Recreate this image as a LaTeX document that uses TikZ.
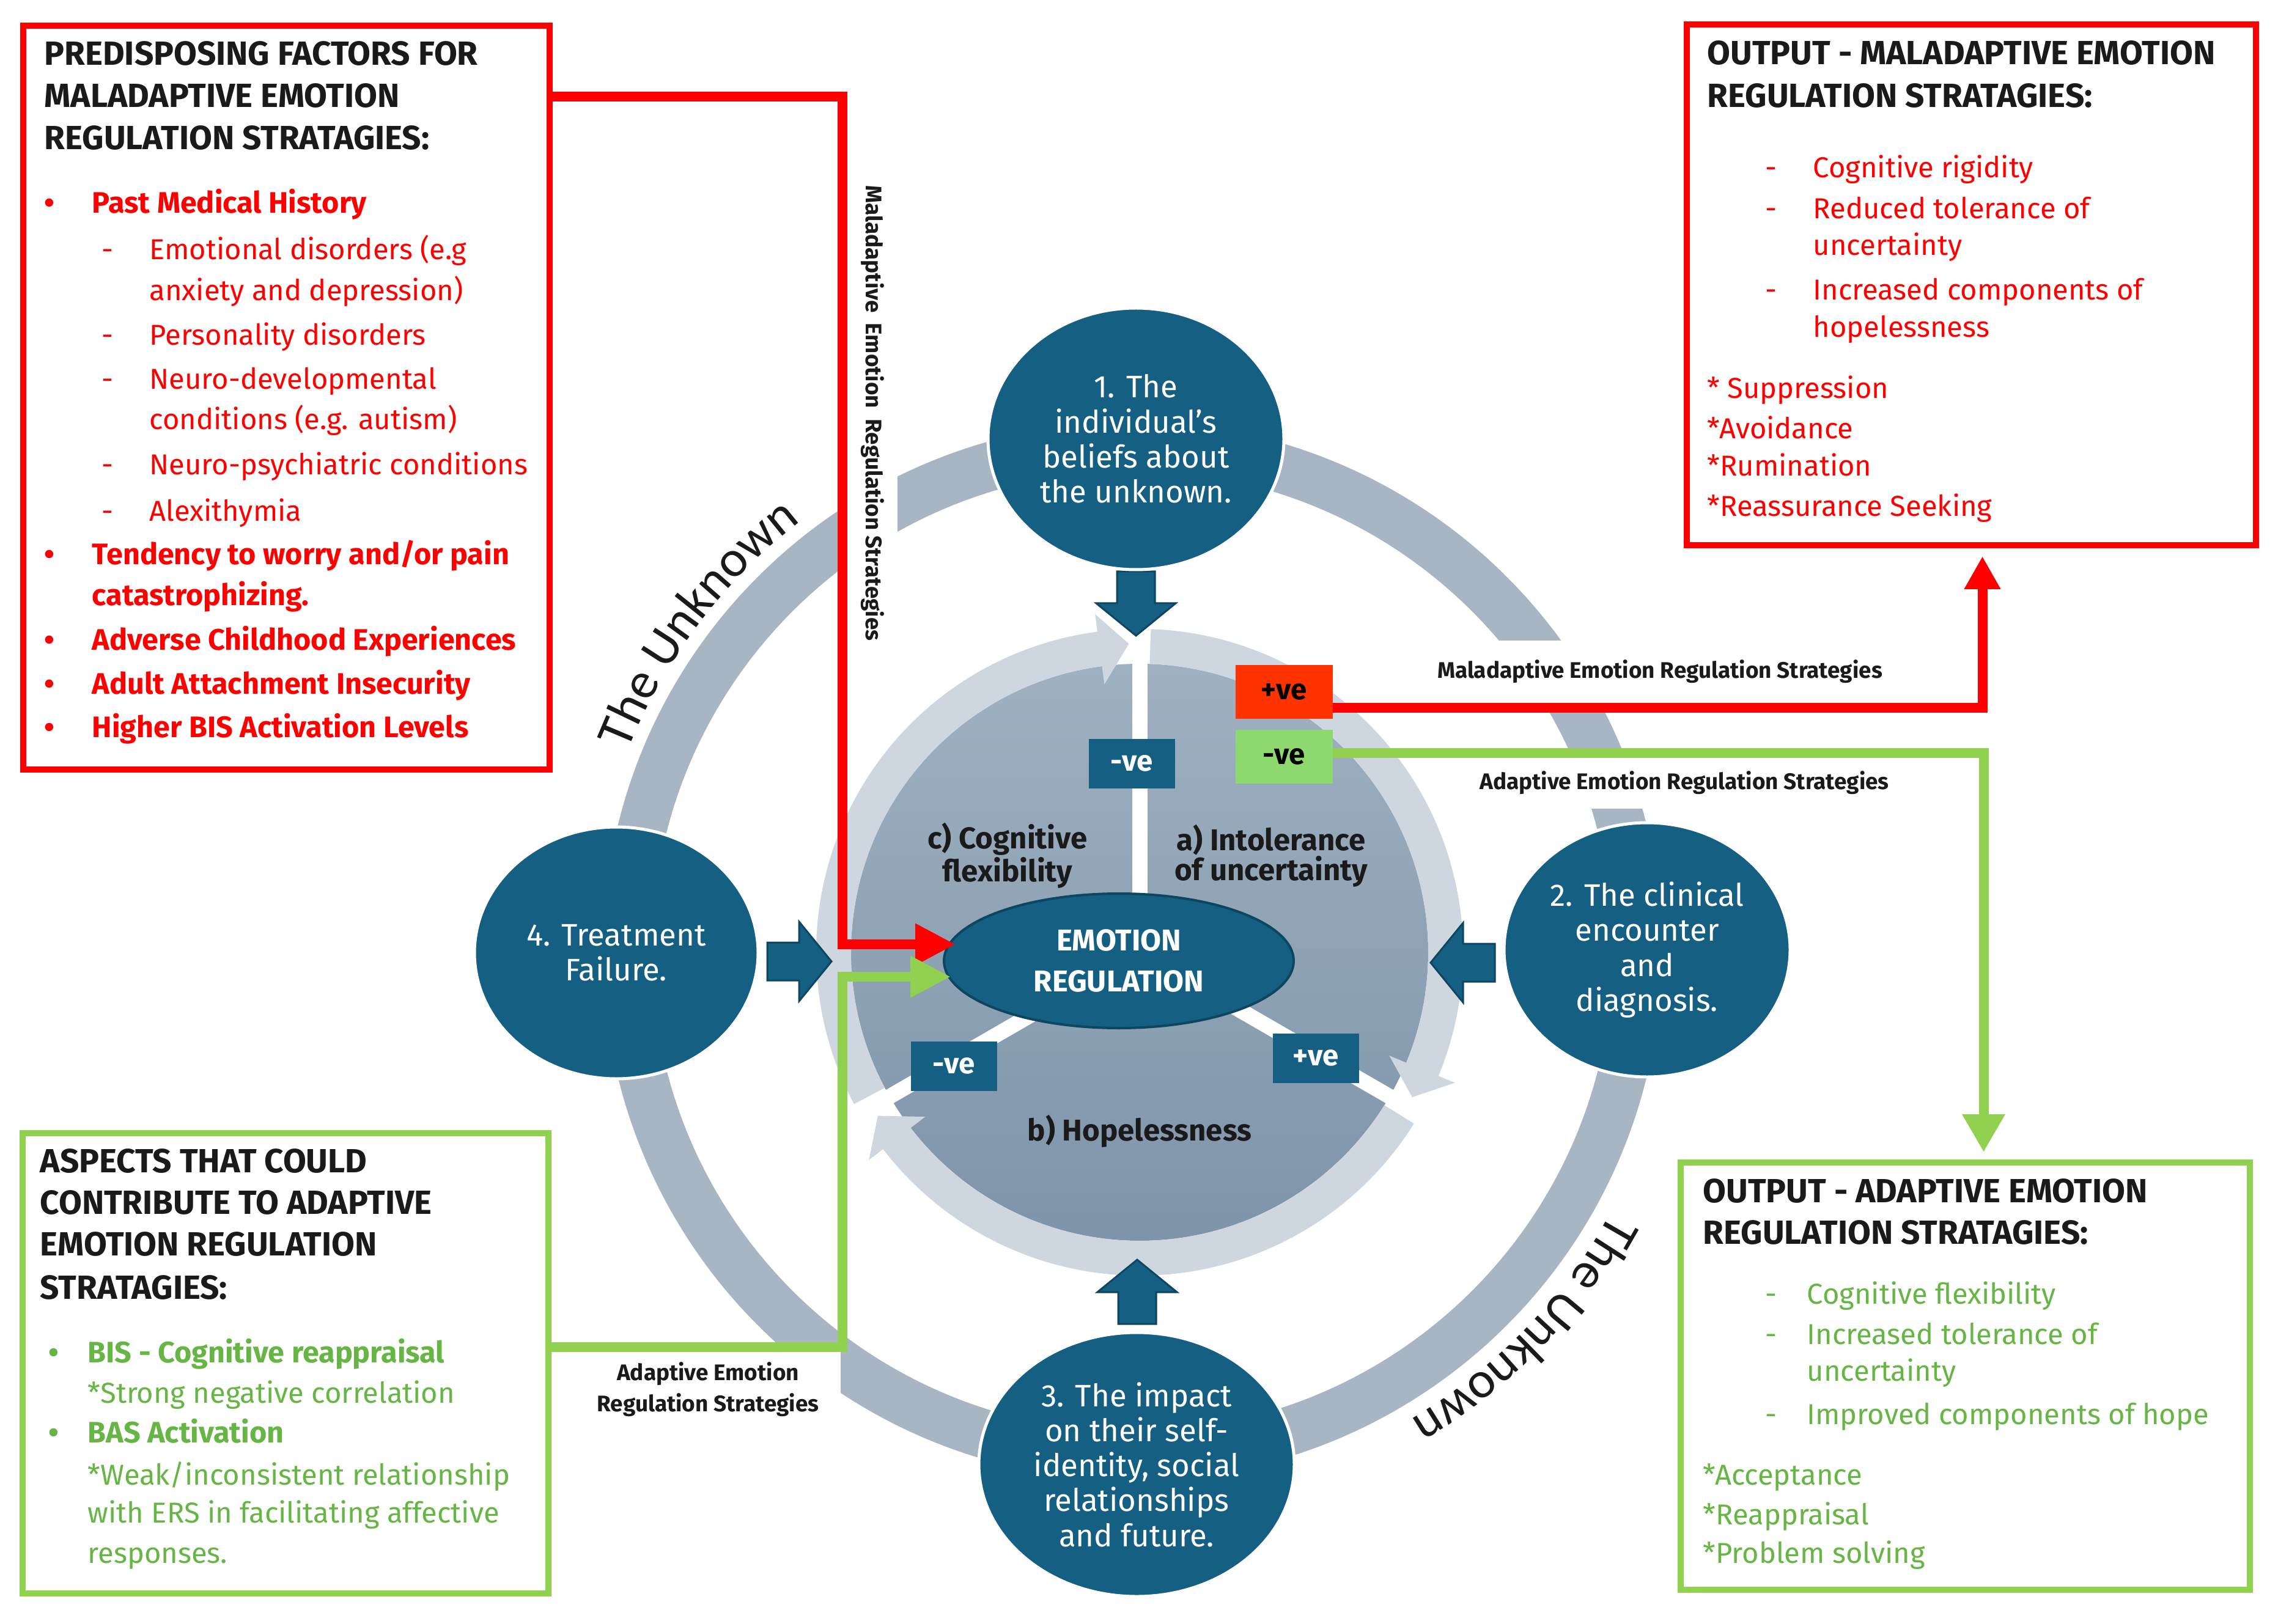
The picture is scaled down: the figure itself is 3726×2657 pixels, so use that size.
\documentclass[tikz,border=0pt]{standalone}
\usepackage{fontspec}
\setmainfont{Fira Sans}
\newfontfamily\unkfont{Carlito}
\usepackage{tikz}
\usetikzlibrary{arrows.meta,calc,positioning,decorations.text,shapes.geometric}

\definecolor{erblue}{HTML}{156082}
\definecolor{erdark}{HTML}{0E4660}
\definecolor{ringgray}{HTML}{A8B5C2}
\definecolor{bandgray}{HTML}{CED6DF}
\definecolor{disktop}{HTML}{9FB1C1}
\definecolor{diskbot}{HTML}{7E94A9}
\definecolor{maladred}{HTML}{FF0000}
\definecolor{adagreen}{HTML}{92D050}
\definecolor{adatext}{HTML}{66B545}
\definecolor{posorange}{HTML}{FF3300}
\definecolor{neggreen}{HTML}{8ED870}
\definecolor{txtdark}{HTML}{1A1A1A}

\newcommand{\ttlfont}{\fontsize{15.6}{18}\selectfont\bfseries}
\newcommand{\itemfont}{\fontsize{13.4}{16}\selectfont}
\newcommand{\itembold}{\fontsize{13.8}{16}\selectfont\bfseries}

\tikzset{
  factorbox/.style={draw=#1, line width=1mm, inner sep=0pt},
  boxtitle/.style={anchor=base west, inner sep=0pt, font=\ttlfont, text=txtdark},
  boxline/.style={anchor=base west, inner sep=0pt, font=\itemfont, text=#1},
  stage/.style={ellipse, fill=erblue, draw=white, line width=0.5mm, text=white, align=center,
    inner sep=0pt, font=\fontsize{14.5}{16.3}\selectfont},
  signbox/.style={fill=#1, minimum width=14.1mm, minimum height=8.1mm, inner sep=0pt,
    font=\fontsize{13.5}{15}\selectfont\bfseries},
  linklabel/.style={fill=white, inner sep=0pt, align=center, text=txtdark,
    font=\fontsize{10.5}{14.5}\selectfont\bfseries},
  facet/.style={align=center, text=txtdark, inner sep=0pt, font=\fontsize{14}{14}\selectfont\bfseries},
  redline/.style={draw=maladred, line width=1.6mm},
  greenline/.style={draw=adagreen, line width=1.6mm},
  blockarrow/.style={fill=erblue, draw=erdark, line width=0.3mm},
}

\begin{document}
\begin{tikzpicture}[x=0.1mm, y=0.1mm]
\useasboundingbox (0,0) rectangle (3726,-2657);
\fill[white] (0,0) rectangle (3726,-2657);
\coordinate (rc) at (1852,-1556);
\coordinate (dc) at (1864,-1558);

% outer ring
\draw[ringgray, line width=8mm] (rc) circle[radius=826];

% segmented disk with its circular arrows
\shade[top color=disktop, bottom color=diskbot] (dc) circle[radius=472];
\foreach \s/\e in {208/90, 88/-30, -32/-150}{
  \pgfmathsetmacro{\hb}{\e+7.5}
  \pgfmathsetmacro{\tp}{\e+2}
  \fill[bandgray] ($(dc)+(\s:529)$) arc[start angle=\s, end angle=\hb, radius=529]
    -- ($(dc)+(\hb:558)$) -- ($(dc)+(\tp:505)$) -- ($(dc)+(\hb:442)$)
    -- ($(dc)+(\hb:472)$) arc[start angle=\hb, end angle=\s, radius=472] -- cycle;
}
\foreach \a in {90,210,330}
  \draw[white, line width=2.5mm] (dc) -- ++(\a:512);

\node[ellipse, fill=erblue, draw=erdark, line width=0.4mm, minimum width=57.2mm, minimum height=22mm,
  inner sep=0pt, text=white, align=center, font=\fontsize{14}{19}\selectfont\bfseries] (er) at (1830,-1572) {EMOTION\\REGULATION};

\node[facet] (cogflex) at (1648,-1400) {c) Cognitive\\flexibility};
\node[facet] (intol) at (2079,-1400) {a) Intolerance\\of uncertainty};
\node[facet] (hopeless) at (1864,-1851) {b) Hopelessness};

\node[signbox=erblue, text=white] (negtop) at (1851,-1249) {-ve};
\node[signbox=erblue, text=white] (negleft) at (1560,-1744) {-ve};
\node[signbox=erblue, text=white] (posright) at (2152,-1731) {+ve};
\node[signbox=posorange, minimum width=15.9mm, minimum height=8.8mm] (posbox) at (2100,-1132) {+ve};
\node[signbox=neggreen, minimum width=15.9mm, minimum height=8.8mm] (negbox) at (2100,-1238) {-ve};

% block arrows into the centre
\foreach \tx/\ty/\r in {1858/1040/-90, 1860/2061/90, 1360/1573/0, 2340/1575/180}
  \draw[blockarrow, shift={(\tx,-\ty)}, rotate=\r] (0,0) -- (-53,65) -- (-53,31) -- (-105,31)
    -- (-105,-31) -- (-53,-31) -- (-53,-65) -- cycle;

% stages
\node[stage, minimum width=48.4mm, minimum height=42.8mm] (c1) at (1858,-718) {1. The\\individual's\\beliefs about\\the unknown.};
\node[stage, minimum width=46.8mm, minimum height=41.6mm] (c2) at (2694,-1554) {2. The clinical\\encounter\\and\\diagnosis.};
\node[stage, minimum width=51.6mm, minimum height=43.2mm] (c3) at (1859,-2396) {3. The impact\\on their self-\\identity, social\\relationships\\and future.};
\node[stage, minimum width=46.4mm, minimum height=41.2mm] (c4) at (1008,-1559) {4. Treatment\\Failure.};

% the unknown
\path[decorate, decoration={text along path, text align=center, text color=txtdark,
  text={|\unkfont\fontsize{24}{28}\selectfont|The Unknown}}]
  ($(rc)+(165:888)$) arc[start angle=165, end angle=121, radius=888];
\path[decorate, decoration={text along path, text align=center, text color=txtdark,
  text={|\unkfont\fontsize{24}{28}\selectfont|The Unknown}}]
  ($(rc)+(-22:892)$) arc[start angle=-22, end angle=-66, radius=892];

% boxes
\node[factorbox=maladred, minimum width=86.1mm, minimum height=121.7mm] (predisp) at (468.5,-650.5) {};
\node[factorbox=maladred, minimum width=93.1mm, minimum height=85.2mm] (outmal) at (3224.5,-466) {};
\node[factorbox=adagreen, minimum width=86mm, minimum height=75.3mm] (aspects) at (467,-2230.5) {};
\node[factorbox=adagreen, minimum width=93.1mm, minimum height=69.9mm] (outada) at (3214.5,-2251.5) {};

% link labels
\node[linklabel, minimum width=80mm, minimum height=10.2mm] (mallab) at (2715,-1099) {Maladaptive Emotion Regulation Strategies};
\node[linklabel, minimum width=74mm, minimum height=8.3mm] (adalab) at (2755,-1281) {Adaptive Emotion Regulation Strategies};
\node[linklabel, rotate=-90, minimum width=80mm, minimum height=8.2mm] (vlab) at (1427,-676) {Maladaptive\ \ Emotion\ \ Regulation Strategies};
\node[linklabel, minimum width=43.3mm, minimum height=12.3mm] (adalab2) at (1158,-2273) {Adaptive Emotion\\Regulation Strategies};

% connectors
\coordinate (rbend) at (1378,-158);
\coordinate (gbend) at (1378,-2204);
\draw[redline, -{Triangle[length=6.6mm, width=6.4mm]}] (predisp.east |- rbend) -- (rbend) |- ($(er.west)+(21,27)$);
\draw[greenline, -{Triangle[length=6.6mm, width=6.4mm]}] (aspects.east |- gbend) -- (gbend) |- ($(er.west)+(13,-26)$);
\draw[redline, -{Triangle[length=5.4mm, width=5.6mm]}] ($(posbox.east)+(0,-26)$) -| ($(outmal.south)+(18,-13)$);
\draw[greenline, -{Triangle[length=6.2mm, width=6.6mm]}] ($(negbox.east)+(0,6)$) -| ($(outada.north)+(30,12)$);

% predisposing factors
\foreach \y/\t in {107/PREDISPOSING FACTORS FOR, 176/MALADAPTIVE EMOTION, 245/REGULATION STRATAGIES:}
  \node[boxtitle] (pdt\y) at (72,-\y) {\t};
\foreach \y/\t in {349/Past Medical History, 924/{Tendency to worry and/or pain}, 1064/Adverse Childhood Experiences,
  1135/Adult Attachment Insecurity, 1206/Higher BIS Activation Levels}{
  \node[boxline=maladred, font=\itembold] (pdb\y) at (72,-\y) {•};
  \node[boxline=maladred, font=\itembold] (pdi\y) at (150,-\y) {\t};
}
\node[boxline=maladred, font=\itembold] (pdi991) at (150,-991) {catastrophizing.};
\foreach \y/\t in {425/{Emotional disorders (e.g}, 565/Personality disorders, 637/Neuro-developmental,
  777/Neuro-psychiatric conditions, 853/Alexithymia}{
  \node[boxline=maladred] (pdd\y) at (166,-\y) {-};
  \node[boxline=maladred] (pdi\y) at (244,-\y) {\t};
}
\node[boxline=maladred] (pdi492) at (244,-492) {anxiety and depression)};
\node[boxline=maladred] (pdi703) at (244,-703) {conditions (e.g. autism)};

% maladaptive output
\foreach \y/\t in {106/OUTPUT - MALADAPTIVE EMOTION, 176/REGULATION STRATAGIES:}
  \node[boxtitle] (omt\y) at (2792,-\y) {\t};
\foreach \y/\t in {291/Cognitive rigidity, 358/Reduced tolerance of, 491/Increased components of}{
  \node[boxline=maladred] (omd\y) at (2887,-\y) {-};
  \node[boxline=maladred] (omi\y) at (2965,-\y) {\t};
}
\foreach \x/\y/\t in {2965/418/uncertainty, 2965/552/hopelessness, 2792/652/* Suppression,
  2792/718/*Avoidance, 2792/779/*Rumination, 2792/845/*Reassurance Seeking}
  \node[boxline=maladred] (omi\y) at (\x,-\y) {\t};

% aspects for adaptive regulation
\foreach \y/\t in {1918/ASPECTS THAT COULD, 1986/CONTRIBUTE TO ADAPTIVE, 2054/EMOTION REGULATION, 2125/STRATAGIES:}
  \node[boxtitle] (ast\y) at (65,-\y) {\t};
\foreach \y/\t in {2229/BIS - Cognitive reappraisal, 2360/BAS Activation}{
  \node[boxline=adatext, font=\itembold] (asb\y) at (79,-\y) {•};
  \node[boxline=adatext, font=\itembold] (asi\y) at (143,-\y) {\t};
}
\foreach \y/\t in {2295/*Strong negative correlation, 2429/{*Weak/inconsistent relationship},
  2491/with ERS in facilitating affective, 2557/responses.}
  \node[boxline=adatext] (asi\y) at (143,-\y) {\t};

% adaptive output
\foreach \y/\t in {1967/OUTPUT - ADAPTIVE EMOTION, 2035/REGULATION STRATAGIES:}
  \node[boxtitle] (oat\y) at (2785,-\y) {\t};
\foreach \y/\t in {2133/Cognitive flexibility, 2199/Increased tolerance of, 2330/Improved components of hope}{
  \node[boxline=adatext] (oad\y) at (2887,-\y) {-};
  \node[boxline=adatext] (oai\y) at (2955,-\y) {\t};
}
\foreach \x/\y/\t in {2955/2259/uncertainty, 2785/2429/*Acceptance, 2785/2494/*Reappraisal, 2785/2557/*Problem solving}
  \node[boxline=adatext] (oai\y) at (\x,-\y) {\t};
\end{tikzpicture}
\end{document}
